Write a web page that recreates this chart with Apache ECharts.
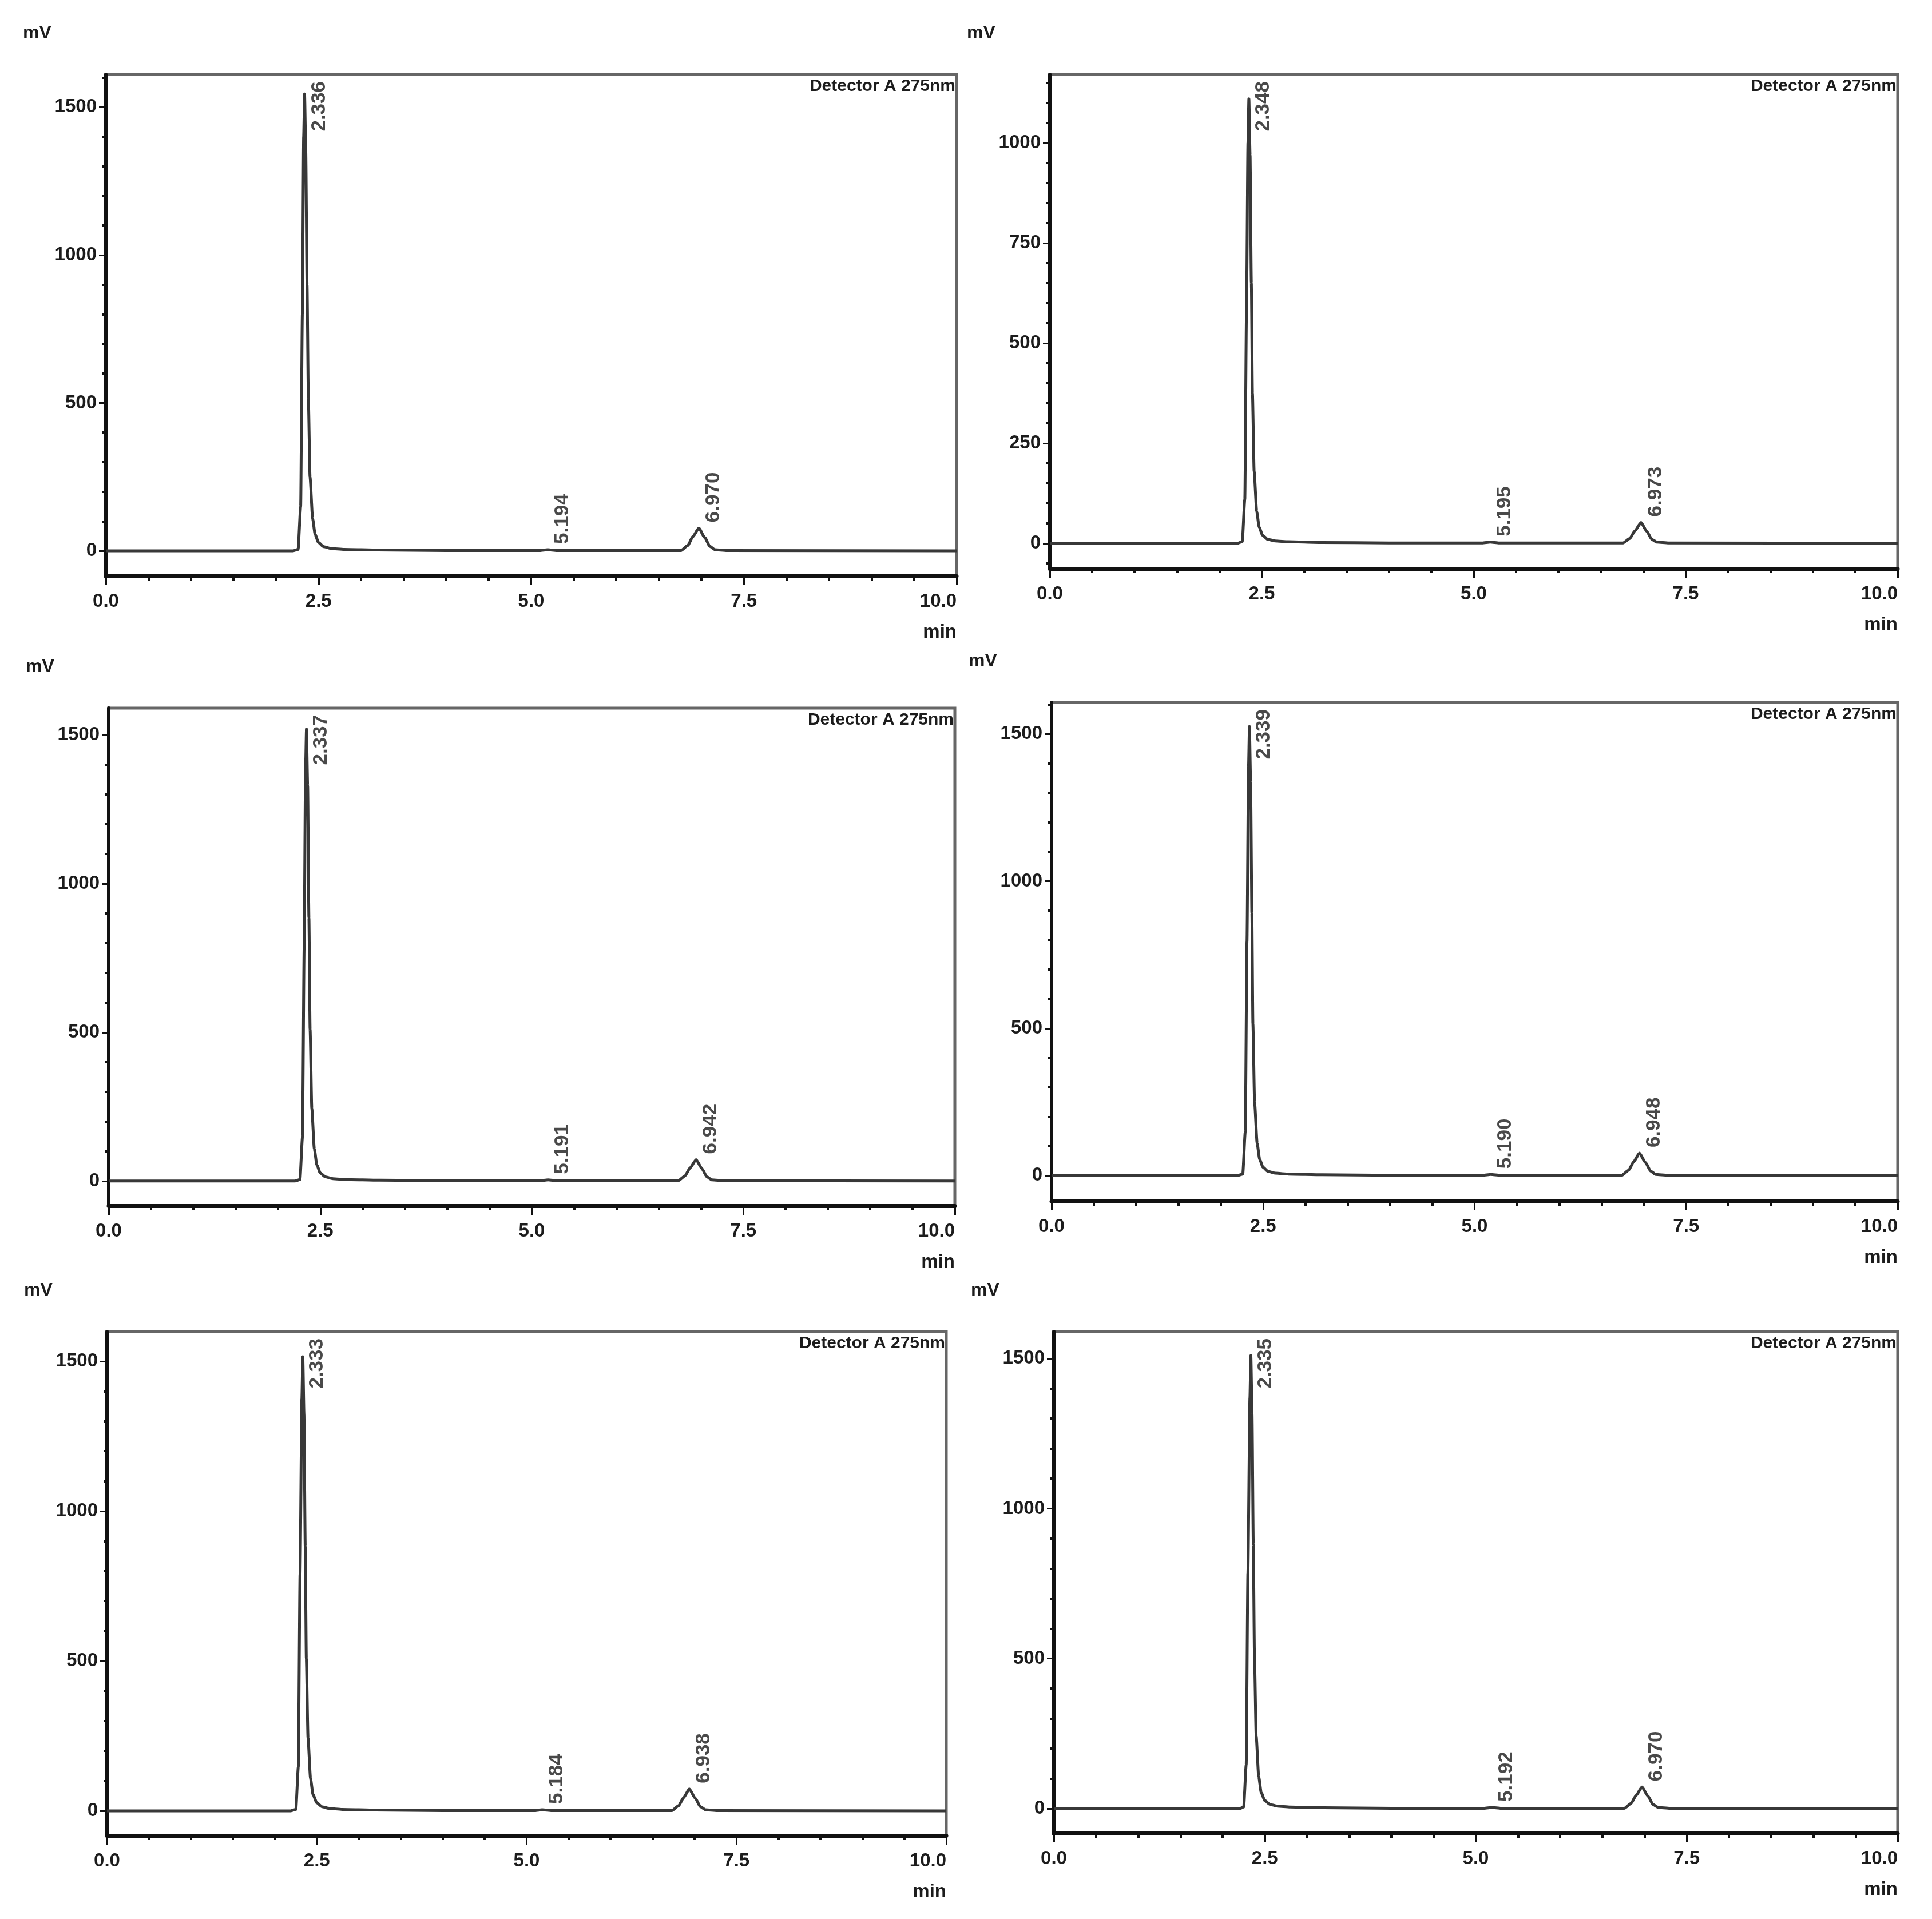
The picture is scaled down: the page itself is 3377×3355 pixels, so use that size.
<!DOCTYPE html>
<html>
<head>
<meta charset="utf-8">
<script src="https://cdn.jsdelivr.net/npm/echarts@6/dist/echarts.min.js"></script>
<style>html,body{margin:0;padding:0;background:#fff}#c{width:3377px;height:3355px}</style>
</head>
<body>
<div id="c"></div>
<script>
// ---------------- data ----------------
const detectorText = 'Detector A 275nm';
const xTickLabels = ['0.0', '2.5', '5.0', '7.5', '10.0'];

const t1 = [0, 2.20, 2.26, 2.29, 2.31, 2.325, 2.336, 2.35, 2.365, 2.38, 2.40, 2.43, 2.46, 2.50, 2.56, 2.65, 2.80, 3.20, 4.00, 5.10, 5.194, 5.30, 6.76, 6.84, 6.90, 6.970, 7.04, 7.10, 7.16, 7.30, 10.0];
const v1 = [0, 0, 5, 150, 800, 1400, 1545, 1350, 900, 520, 250, 110, 55, 28, 14, 8, 5, 3, 1, 1, 4, 1, 1, 18, 48, 77, 45, 15, 4, 1, 0];
const t2 = [0, 2.21, 2.27, 2.30, 2.32, 2.337, 2.348, 2.362, 2.377, 2.39, 2.41, 2.44, 2.47, 2.51, 2.57, 2.66, 2.81, 3.20, 4.00, 5.10, 5.195, 5.30, 6.76, 6.84, 6.90, 6.973, 7.04, 7.10, 7.16, 7.30, 10.0];
const v2 = [0, 0, 4, 110, 580, 1000, 1110, 970, 650, 375, 180, 80, 40, 20, 10, 6, 4, 2, 1, 1, 3, 1, 1, 12, 31, 52, 30, 10, 3, 1, 0];
const t3 = [0, 2.20, 2.26, 2.29, 2.31, 2.326, 2.337, 2.351, 2.366, 2.38, 2.40, 2.43, 2.46, 2.50, 2.56, 2.65, 2.80, 3.20, 4.00, 5.10, 5.191, 5.30, 6.73, 6.81, 6.87, 6.942, 7.01, 7.07, 7.13, 7.27, 10.0];
const v3 = [0, 0, 5, 148, 790, 1380, 1520, 1330, 885, 510, 245, 108, 54, 27, 14, 8, 5, 3, 1, 1, 4, 1, 1, 17, 44, 72, 42, 14, 4, 1, 0];
const t4 = [0, 2.20, 2.26, 2.29, 2.31, 2.328, 2.339, 2.353, 2.368, 2.38, 2.40, 2.43, 2.46, 2.50, 2.56, 2.65, 2.80, 3.20, 4.00, 5.10, 5.190, 5.30, 6.74, 6.82, 6.88, 6.948, 7.02, 7.08, 7.14, 7.28, 10.0];
const v4 = [0, 0, 5, 150, 795, 1385, 1525, 1335, 890, 515, 248, 110, 55, 28, 14, 8, 5, 3, 1, 1, 4, 1, 1, 18, 47, 76, 44, 15, 4, 1, 0];
const t5 = [0, 2.19, 2.25, 2.28, 2.30, 2.322, 2.333, 2.347, 2.362, 2.375, 2.395, 2.425, 2.455, 2.50, 2.56, 2.65, 2.80, 3.20, 4.00, 5.10, 5.184, 5.30, 6.73, 6.81, 6.87, 6.938, 7.01, 7.07, 7.13, 7.27, 10.0];
const v5 = [0, 0, 5, 148, 788, 1375, 1515, 1325, 882, 508, 244, 108, 54, 27, 14, 8, 5, 3, 1, 1, 4, 1, 1, 17, 44, 73, 42, 14, 4, 1, 0];
const t6 = [0, 2.20, 2.25, 2.28, 2.30, 2.324, 2.335, 2.349, 2.364, 2.378, 2.398, 2.428, 2.458, 2.50, 2.56, 2.65, 2.80, 3.20, 4.00, 5.10, 5.192, 5.30, 6.76, 6.84, 6.90, 6.970, 7.04, 7.10, 7.16, 7.30, 10.0];
const v6 = [0, 0, 5, 147, 785, 1370, 1510, 1320, 880, 505, 243, 107, 53, 27, 14, 8, 5, 3, 1, 1, 4, 1, 1, 17, 44, 72, 42, 14, 4, 1, 0];

const peaks1 = ['2.336', '5.194', '6.970'];
const peaks2 = ['2.348', '5.195', '6.973'];
const peaks3 = ['2.337', '5.191', '6.942'];
const peaks4 = ['2.339', '5.190', '6.948'];
const peaks5 = ['2.333', '5.184', '6.938'];
const peaks6 = ['2.335', '5.192', '6.970'];

const yTicksA = [0, 500, 1000, 1500];
const yTicksB = [0, 250, 500, 750, 1000];

// axis ranges per panel
const yMins = [-85, -63, -83, -87, -82, -82];
const yMaxs = [1611, 1171, 1590, 1607, 1599, 1590];
const yMinorSteps = [100, 50, 100, 100, 100, 100];

// ---------------- layout ----------------
const W = 3377;
const boxes = [
  {l: 185, t: 130, r: 1672, b: 1007},
  {l: 1835, t: 130, r: 3317, b: 994},
  {l: 190, t: 1238, r: 1669, b: 2108},
  {l: 1838, t: 1228, r: 3317, b: 2100},
  {l: 187, t: 2328, r: 1654, b: 3209},
  {l: 1842, t: 2328, r: 3317, b: 3205}
];

function hasFont(name) {
  const c = document.createElement('canvas').getContext('2d');
  const s = 'mmmmmwwwlli1.0Detector';
  c.font = '72px monospace';
  const w1 = c.measureText(s).width;
  c.font = '72px "' + name + '", monospace';
  const w2 = c.measureText(s).width;
  return Math.abs(w1 - w2) > 0.5;
}
const narrowOK = hasFont('Liberation Sans Narrow');
const NF = narrowOK ? "'Liberation Sans Narrow', 'Arial Narrow', sans-serif" : "'Liberation Sans', Arial, sans-serif";
const NS = narrowOK ? 1 : 0.86;
const RF = "'Liberation Sans', Arial, sans-serif";
const FW = 'bold';

const T = [t1, t2, t3, t4, t5, t6];
const V = [v1, v2, v3, v4, v5, v6];
const P = [peaks1, peaks2, peaks3, peaks4, peaks5, peaks6];
const YT = [yTicksA, yTicksB, yTicksA, yTicksA, yTicksA, yTicksA];

const grid = [], xAxis = [], yAxis = [], series = [], title = [];
const AX = '#111', TXT = '#1c1c1c';

boxes.forEach((bx, i) => {
  grid.push({left: bx.l, top: bx.t, width: bx.r - bx.l, height: bx.b - bx.t,
    show: true, borderColor: '#666', borderWidth: 5, backgroundColor: 'transparent'});
  xAxis.push({
    type: 'value', gridIndex: i, min: 0, max: 10, interval: 2.5,
    axisLine: {show: true, onZero: false, lineStyle: {color: AX, width: 7}},
    axisTick: {show: true, length: 16, lineStyle: {color: AX, width: 3}},
    minorTick: {show: true, splitNumber: 5, length: 8, lineStyle: {color: AX, width: 4}},
    axisLabel: {fontSize: Math.round(38 * NS), fontFamily: NF, fontWeight: FW, color: TXT, margin: 28,
      alignMaxLabel: 'right',
      formatter: v => xTickLabels[Math.round(v / 2.5)]},
    splitLine: {show: false}, minorSplitLine: {show: false}
  });
  const majors = YT[i];
  const minors = [];
  for (let v = Math.ceil(yMins[i] / yMinorSteps[i]) * yMinorSteps[i]; v <= yMaxs[i]; v += yMinorSteps[i]) {
    if (majors.indexOf(v) < 0) minors.push(v);
  }
  yAxis.push({
    type: 'value', gridIndex: i, min: yMins[i], max: yMaxs[i], position: 'left',
    axisLine: {show: true, onZero: false, lineStyle: {color: AX, width: 6}},
    axisTick: {show: true, length: 12, customValues: majors, lineStyle: {color: AX, width: 3}},
    axisLabel: {show: true, customValues: majors, fontSize: Math.round(38 * NS), fontFamily: NF, fontWeight: FW,
      color: TXT, margin: 16, formatter: v => String(v)},
    splitLine: {show: false}
  });
  yAxis.push({
    type: 'value', gridIndex: i, min: yMins[i], max: yMaxs[i], position: 'left',
    axisLine: {show: false, onZero: false},
    axisTick: {show: true, length: 6, customValues: minors, lineStyle: {color: AX, width: 4}},
    axisLabel: {show: false},
    splitLine: {show: false}
  });

  series.push({
    type: 'line', xAxisIndex: i, yAxisIndex: 2 * i, showSymbol: false, symbol: 'none',
    smooth: 0.2, smoothMonotone: 'x', animation: false, silent: true,
    lineStyle: {color: '#383838', width: 5},
    data: T[i].map((x, j) => [x, V[i][j]])
  });

  const labelData = P[i].map(s => {
    const rt = parseFloat(s);
    const j = T[i].indexOf(rt);
    const apex = j >= 0 ? V[i][j] : 0;
    const pinned = apex > 0.5 * yMaxs[i];
    return {
      value: pinned ? [rt, yMaxs[i]] : [rt, apex],
      label: {
        show: true, formatter: s, rotate: 90, position: 'inside',
        align: pinned ? 'right' : 'left', verticalAlign: 'top',
        offset: pinned ? [-12, 8] : [10, 8],
        fontSize: 35, fontFamily: RF, fontWeight: FW, color: TXT
      }
    };
  });
  series.push({
    type: 'scatter', xAxisIndex: i, yAxisIndex: 2 * i, symbolSize: 0.1, silent: true,
    animation: false, itemStyle: {color: 'rgba(0,0,0,0)'}, data: labelData, z: 5
  });

  const fs = Math.round(37 * NS);
  title.push({text: 'mV', left: bx.l - 145, top: bx.t - 72 - fs / 2, padding: 0,
    textStyle: {fontSize: fs, fontFamily: NF, color: TXT, fontWeight: FW}});
  title.push({text: detectorText, right: W - bx.r + 2, top: bx.t + 6, padding: 0,
    textStyle: {fontSize: Math.round(37 * (narrowOK ? 1 : 0.82)), fontFamily: NF, color: TXT, fontWeight: FW}});
  title.push({text: 'min', right: W - bx.r, top: bx.b + 98 - fs / 2, padding: 0,
    textStyle: {fontSize: Math.round(38 * NS), fontFamily: NF, color: TXT, fontWeight: FW}});
});

const chart = echarts.init(document.getElementById('c'), null, {renderer: 'canvas'});
chart.setOption({animation: false, backgroundColor: '#fff', title, grid, xAxis, yAxis, series});
</script>
</body>
</html>
